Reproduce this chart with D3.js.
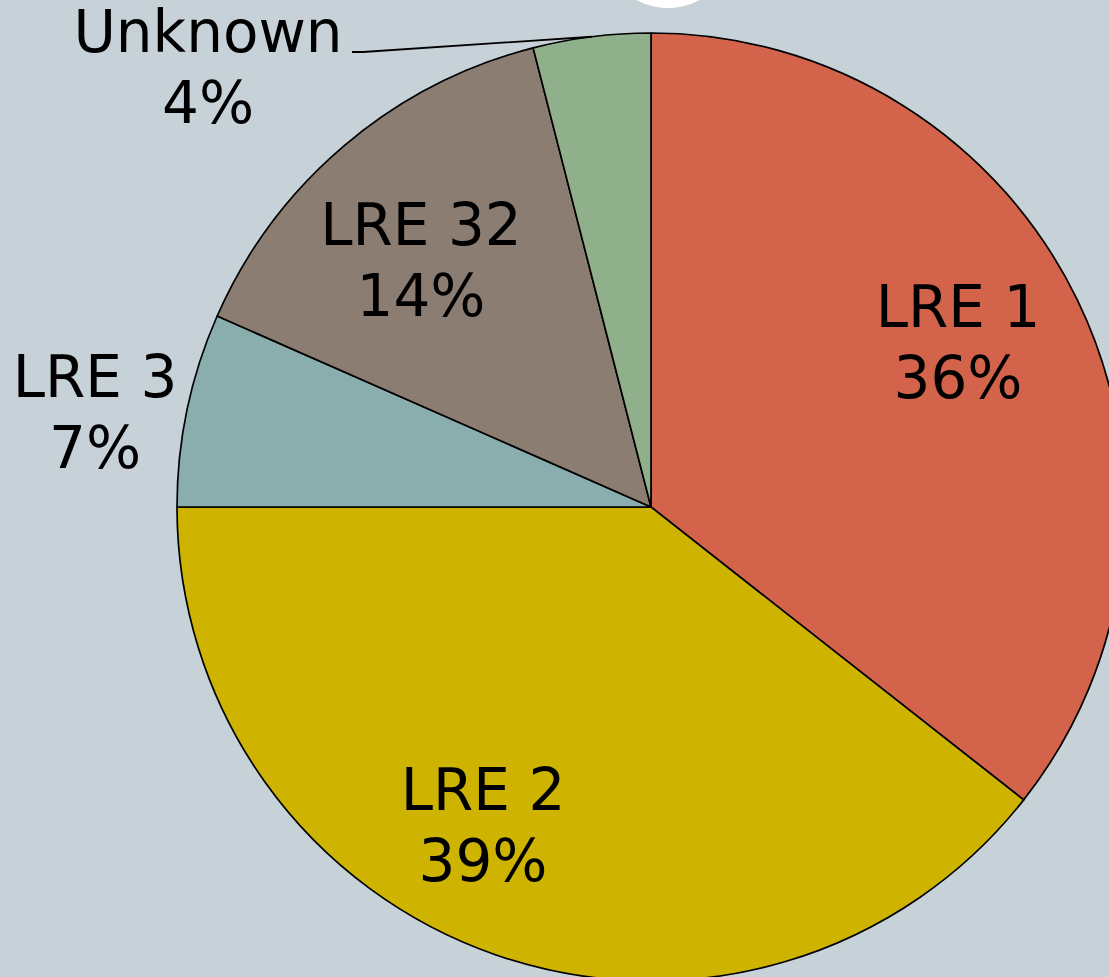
<!DOCTYPE html>
<html>
<head>
<meta charset="utf-8">
<script src="https://cdn.jsdelivr.net/npm/d3@7"></script>
<style>
	html, body { margin: 0; padding: 0; background: #c6d1d8; overflow: hidden; }
	svg { display: block; }
	text { font-family: "DejaVu Sans", Verdana, sans-serif; font-size: 58px; fill: #000; }
</style>
</head>
<body>
<div id="chart"></div>
<script>
const categories = ['LRE 1', 'LRE 2', 'LRE 3', 'LRE 32', 'Unknown']
const shares = [35.6, 39.4, 6.6, 14.4, 4.0]
const colors = ['#d3644b', '#ceb400', '#8aadae', '#8c7d72', '#8fb08b']

const width = 1109
const height = 977
const cx = 651
const cy = 507
const radius = 474

// label centre offsets from the pie centre (px)
const labelPos = {
	'LRE 1': [307, -165],
	'LRE 2': [-168, 318],
	'LRE 3': [-556, -95],
	'LRE 32': [-230, -247],
	'Unknown': [-443, -440]
}

const svg = d3.select('#chart')
	.append('svg')
	.attr('width', width)
	.attr('height', height)

svg.append('rect')
	.attr('width', width)
	.attr('height', height)
	.attr('fill', '#c6d1d8')

// white blob peeking in at the top edge
svg.append('circle')
	.attr('cx', 668)
	.attr('cy', -58)
	.attr('r', 66)
	.attr('fill', '#fff')

const data = categories.map((name, i) => ({ name, value: shares[i], color: colors[i] }))

const pie = d3.pie().sort(null).value(d => d.value)
const arc = d3.arc().innerRadius(0).outerRadius(radius)

const g = svg.append('g').attr('transform', `translate(${cx},${cy})`)

const arcs = pie(data)

g.selectAll('path.slice')
	.data(arcs)
	.enter()
	.append('path')
	.attr('class', 'slice')
	.attr('d', arc)
	.attr('fill', d => d.data.color)
	.attr('stroke', '#000')
	.attr('stroke-width', 1.7)
	.attr('stroke-linejoin', 'round')

// leader line for the small slice
const unknown = arcs.find(d => d.data.name === 'Unknown')
const mid = (unknown.startAngle + unknown.endAngle) / 2
const tip = [radius * Math.sin(mid), -radius * Math.cos(mid)]
const [ux, uy] = labelPos['Unknown']
g.append('polyline')
	.attr('points', [[ux + 144, uy - 15], [ux + 155, uy - 15], tip].map(p => p.join(',')).join(' '))
	.attr('fill', 'none')
	.attr('stroke', '#000')
	.attr('stroke-width', 1.8)

const labels = g.selectAll('text.label')
	.data(arcs)
	.enter()
	.append('text')
	.attr('class', 'label')
	.attr('text-anchor', 'middle')

labels.append('tspan')
	.attr('x', d => labelPos[d.data.name][0])
	.attr('y', d => labelPos[d.data.name][1] - 15)
	.text(d => d.data.name)

labels.append('tspan')
	.attr('x', d => labelPos[d.data.name][0])
	.attr('y', d => labelPos[d.data.name][1] + 56)
	.text(d => Math.round(d.data.value) + '%')
</script>
</body>
</html>
